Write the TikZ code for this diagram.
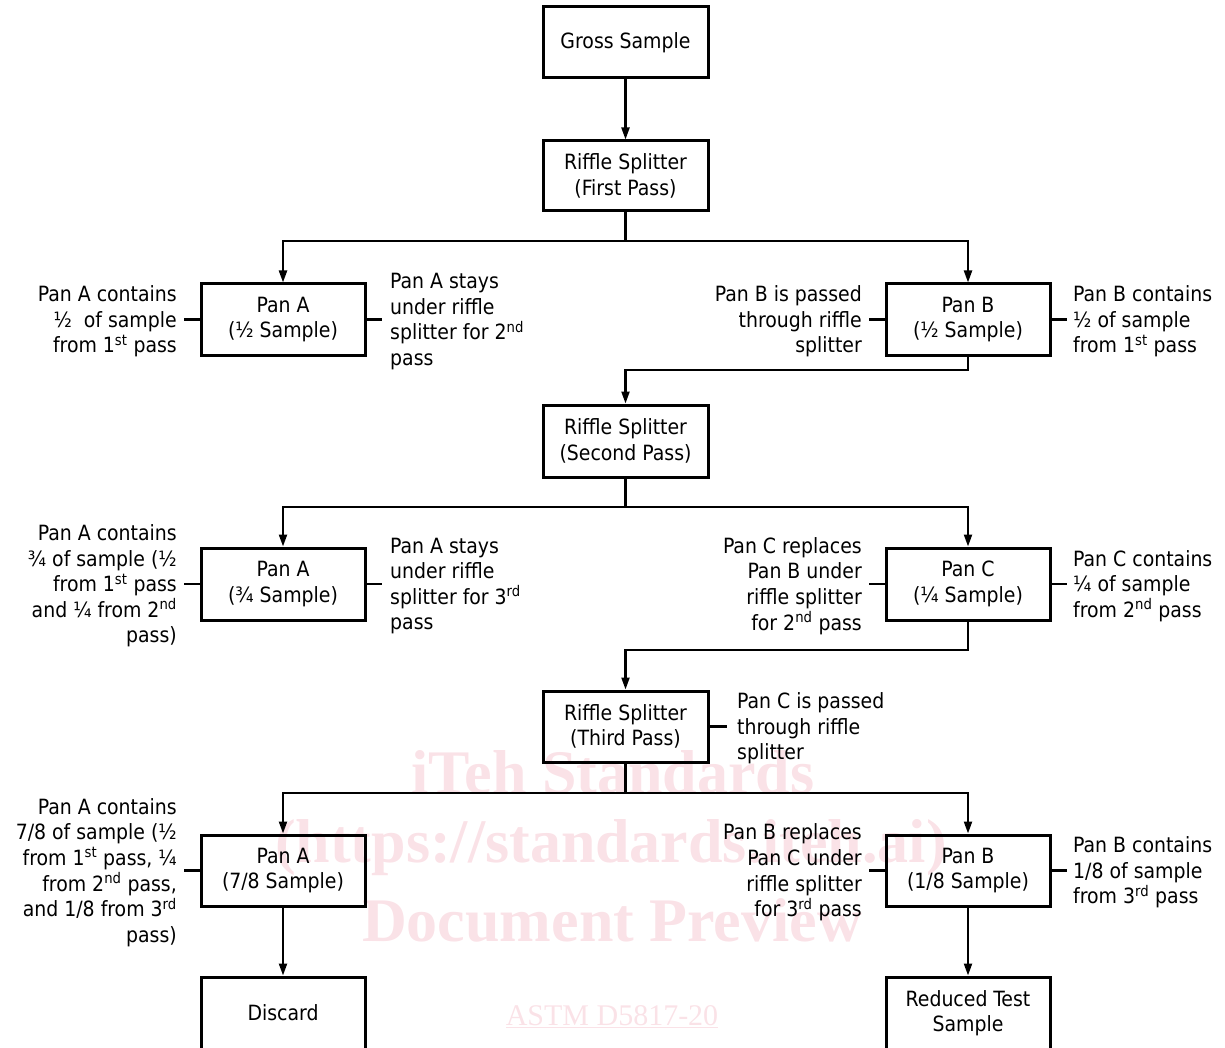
\documentclass[tikz,border=0pt]{standalone}
\usepackage{fontspec}
\setmainfont{DejaVu Sans Condensed}
\newfontfamily\wmfont{Liberation Serif}
\usetikzlibrary{arrows.meta}
\definecolor{wm}{RGB}{250,226,231}
\tikzset{
  box/.style={draw, line width=3pt, minimum width=165pt, minimum height=71pt, align=center, inner sep=0pt},
  conn/.style={line width=2.2pt},
  arr/.style={line width=2.2pt, -{Triangle[length=12pt,width=8pt]}},
  lab/.style={inner ysep=0pt, inner xsep=0pt, yshift=-2pt},
  tick/.style={line width=2.2pt},
  wmtxt/.style={text=wm, font=\wmfont\bfseries\fontsize{62pt}{62pt}\selectfont, inner sep=0pt}
}
\begin{document}
\begin{tikzpicture}[x=1pt,y=-1pt, font=\fontsize{21pt}{25.6pt}\selectfont]
\useasboundingbox (0,0) rectangle (1225,1048);
\clip (0,0) rectangle (1225,1048);
% watermark
\node[wmtxt] (w1) at (613,772) {iTeh Standards};
\node[wmtxt] (w2) at (611,848) {(https://standards.iteh.ai)};
\node[wmtxt] (w3) at (612,920) {Document Preview};
\node[text=wm, font=\wmfont\fontsize{30pt}{30pt}\selectfont, inner sep=0pt] (w4) at (612,1017) {\underline{ASTM D5817-20}};
% boxes
\node[box] (gross) at (625.5,42.5) {Gross Sample};
\node[box, minimum height=70pt] (r1) at (625.5,176) {Riffle Splitter\\(First Pass)};
\node[box, minimum width=164pt] (pA1) at (283,319.5) {Pan A\\(½ Sample)};
\node[box, minimum width=164pt] (pB1) at (968,319.5) {Pan B\\(½ Sample)};
\node[box, minimum height=72pt] (r2) at (625.5,441) {Riffle Splitter\\(Second Pass)};
\node[box, minimum width=164pt, minimum height=72pt] (pA2) at (283,584) {Pan A\\(¾ Sample)};
\node[box, minimum width=164pt, minimum height=72pt] (pC2) at (968,584) {Pan C\\(¼ Sample)};
\node[box] (r3) at (625.5,726.5) {Riffle Splitter\\(Third Pass)};
\node[box, minimum width=164pt] (pA3) at (283,870.5) {Pan A\\(7/8 Sample)};
\node[box, minimum width=164pt] (pB3) at (968,870.5) {Pan B\\(1/8 Sample)};
\node[box, minimum width=164pt, minimum height=72pt] (disc) at (283,1013) {Discard};
\node[box, minimum width=164pt, minimum height=72pt] (red) at (968,1013) {Reduced Test\\Sample};
% junctions
\coordinate (j1) at (625.5,241);
\coordinate (j2) at (625.5,370);
\coordinate (j3) at (625.5,507);
\coordinate (j4) at (625.5,650);
\coordinate (j5) at (625.5,793);
% connectors
\draw[arr] (gross) -- (r1);
\draw[conn] (r1.south) -- (j1);
\draw[arr] (j1) -| (pA1.north);
\draw[arr] (j1) -| (pB1.north);
\draw[arr] (pB1.south) |- (j2) -- (r2.north);
\draw[conn] (r2.south) -- (j3);
\draw[arr] (j3) -| (pA2.north);
\draw[arr] (j3) -| (pC2.north);
\draw[arr] (pC2.south) |- (j4) -- (r3.north);
\draw[conn] (r3.south) -- (j5);
\draw[arr] (j5) -| (pA3.north);
\draw[arr] (j5) -| (pB3.north);
\draw[arr] (pA3) -- (disc);
\draw[arr] (pB3) -- (red);
% labels row 1
\node[lab, anchor=east, align=right, inner xsep=7pt] (lA1) at (184,319.5) {Pan A contains\\½\ \ of sample\\from 1\textsuperscript{st} pass};
\node[lab, anchor=west, align=left, inner xsep=8pt] (rA1) at (382,319.5) {Pan A stays\\under riffle\\splitter for 2\textsuperscript{nd}\\pass};
\node[lab, anchor=east, align=right, inner xsep=7pt] (lB1) at (869,319.5) {Pan B is passed\\through riffle\\splitter};
\node[lab, anchor=west, align=left, inner xsep=6pt] (rB1) at (1067,319.5) {Pan B contains\\½ of sample\\from 1\textsuperscript{st} pass};
% labels row 2
\node[lab, anchor=east, align=right, inner xsep=7pt] (lA2) at (184,584) {Pan A contains\\¾ of sample (½\\from 1\textsuperscript{st} pass\\and ¼ from 2\textsuperscript{nd}\\pass)};
\node[lab, anchor=west, align=left, inner xsep=8pt] (rA2) at (382,584) {Pan A stays\\under riffle\\splitter for 3\textsuperscript{rd}\\pass};
\node[lab, anchor=east, align=right, inner xsep=7pt] (lC2) at (869,584) {Pan C replaces\\Pan B under\\riffle splitter\\for 2\textsuperscript{nd} pass};
\node[lab, anchor=west, align=left, inner xsep=6pt] (rC2) at (1067,584) {Pan C contains\\¼ of sample\\from 2\textsuperscript{nd} pass};
% label riffle 3
\node[lab, anchor=west, align=left, inner xsep=10pt] (rR3) at (727,726.5) {Pan C is passed\\through riffle\\splitter};
% labels row 3
\node[lab, anchor=east, align=right, inner xsep=7pt] (lA3) at (184,870.5) {Pan A contains\\7/8 of sample (½\\from 1\textsuperscript{st} pass, ¼\\from 2\textsuperscript{nd} pass,\\and 1/8 from 3\textsuperscript{rd}\\pass)};
\node[lab, anchor=east, align=right, inner xsep=7pt] (lB3) at (869,870.5) {Pan B replaces\\Pan C under\\riffle splitter\\for 3\textsuperscript{rd} pass};
\node[lab, anchor=west, align=left, inner xsep=6pt] (rB3) at (1067,870.5) {Pan B contains\\1/8 of sample\\from 3\textsuperscript{rd} pass};
% ticks
\draw[tick] (lA1.east |- pA1.west) -- (pA1.west);
\draw[tick] (pA1.east) -- (rA1.west |- pA1.east);
\draw[tick] (lB1.east |- pB1.west) -- (pB1.west);
\draw[tick] (pB1.east) -- (rB1.west |- pB1.east);
\draw[tick] (lA2.east |- pA2.west) -- (pA2.west);
\draw[tick] (pA2.east) -- (rA2.west |- pA2.east);
\draw[tick] (lC2.east |- pC2.west) -- (pC2.west);
\draw[tick] (pC2.east) -- (rC2.west |- pC2.east);
\draw[tick] (r3.east) -- (rR3.west |- r3.east);
\draw[tick] (lA3.east |- pA3.west) -- (pA3.west);
\draw[tick] (lB3.east |- pB3.west) -- (pB3.west);
\draw[tick] (pB3.east) -- (rB3.west |- pB3.east);
\end{tikzpicture}
\end{document}
